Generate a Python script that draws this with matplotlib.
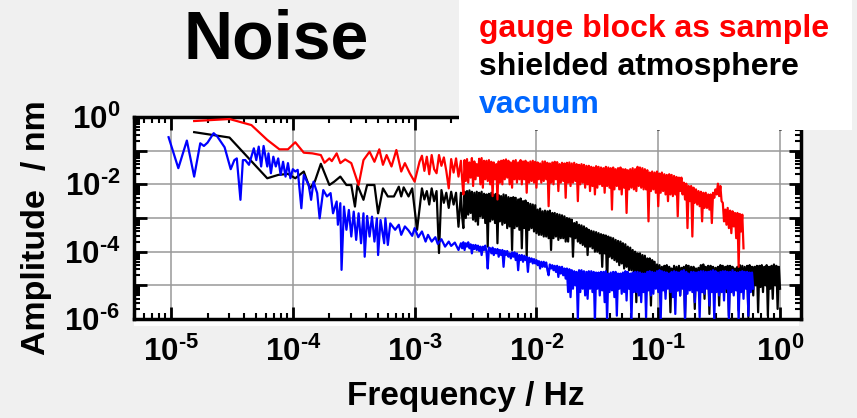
import matplotlib
matplotlib.use('Agg')
import matplotlib.pyplot as plt
import matplotlib.patches as patches
import matplotlib.ticker as ticker
import numpy as np

plt.rcParams['font.family'] = 'Liberation Sans'
plt.rcParams['mathtext.fontset'] = 'custom'
plt.rcParams['mathtext.rm'] = 'Liberation Sans:bold'
plt.rcParams['mathtext.bf'] = 'Liberation Sans:bold'

# --- data (log10 of frequency / Hz and amplitude / nm) ---

# dense high frequency part, shared by the three spectra
logf_dense = [
    -2.62, -2.61, -2.60, -2.59, -2.58, -2.57, -2.56, -2.55, -2.54, -2.53,
    -2.52, -2.51, -2.50, -2.49, -2.48, -2.47, -2.46, -2.45, -2.44, -2.43,
    -2.42, -2.41, -2.40, -2.39, -2.38, -2.37, -2.36, -2.35, -2.34, -2.33,
    -2.32, -2.31, -2.30, -2.29, -2.28, -2.27, -2.26, -2.25, -2.24, -2.23,
    -2.22, -2.21, -2.20, -2.19, -2.18, -2.17, -2.16, -2.15, -2.14, -2.13,
    -2.12, -2.11, -2.10, -2.09, -2.08, -2.07, -2.06, -2.05, -2.04, -2.03,
    -2.02, -2.01, -2.00, -1.99, -1.98, -1.97, -1.96, -1.95, -1.94, -1.93,
    -1.92, -1.91, -1.90, -1.89, -1.88, -1.87, -1.86, -1.85, -1.84, -1.83,
    -1.82, -1.81, -1.80, -1.79, -1.78, -1.77, -1.76, -1.75, -1.74, -1.73,
    -1.72, -1.71, -1.70, -1.69, -1.68, -1.67, -1.66, -1.65, -1.64, -1.63,
    -1.62, -1.61, -1.60, -1.59, -1.58, -1.57, -1.56, -1.55, -1.54, -1.53,
    -1.52, -1.51, -1.50, -1.49, -1.48, -1.47, -1.46, -1.45, -1.44, -1.43,
    -1.42, -1.41, -1.40, -1.39, -1.38, -1.37, -1.36, -1.35, -1.34, -1.33,
    -1.32, -1.31, -1.30, -1.29, -1.28, -1.27, -1.26, -1.25, -1.24, -1.23,
    -1.22, -1.21, -1.20, -1.19, -1.18, -1.17, -1.16, -1.15, -1.14, -1.13,
    -1.12, -1.11, -1.10, -1.09, -1.08, -1.07, -1.06, -1.05, -1.04, -1.03,
    -1.02, -1.01, -1.00, -0.99, -0.98, -0.97, -0.96, -0.95, -0.94, -0.93,
    -0.92, -0.91, -0.90, -0.89, -0.88, -0.87, -0.86, -0.85, -0.84, -0.83,
    -0.82, -0.81, -0.80, -0.79, -0.78, -0.77, -0.76, -0.75, -0.74, -0.73,
    -0.72, -0.71, -0.70, -0.69, -0.68, -0.67, -0.66, -0.65, -0.64, -0.63,
    -0.62, -0.61, -0.60, -0.59, -0.58, -0.57, -0.56, -0.55, -0.54, -0.53,
    -0.52, -0.51, -0.50, -0.49, -0.48, -0.47, -0.46, -0.45, -0.44, -0.43,
    -0.42, -0.41, -0.40, -0.39, -0.38, -0.37, -0.36, -0.35, -0.34, -0.33,
    -0.32, -0.31, -0.30, -0.29, -0.28, -0.27, -0.26, -0.25, -0.24, -0.23,
    -0.22, -0.21, -0.20, -0.19, -0.18, -0.17, -0.16, -0.15, -0.14, -0.13,
    -0.12, -0.11, -0.10, -0.09, -0.08, -0.07, -0.06, -0.05, -0.04, -0.03,
    -0.02, -0.01, 0.00]

# gauge block as sample (red)
red_logf_low = [-4.81, -4.52, -4.34, -4.21, -4.11, -4.04, -3.98, -3.91, -3.84, -3.77,
                -3.74, -3.70, -3.68, -3.64, -3.61, -3.57, -3.52, -3.46, -3.42, -3.37,
                -3.33, -3.29, -3.26, -3.23, -3.19, -3.15, -3.11, -3.08, -3.04, -3.00,
                -2.96, -2.94, -2.92, -2.90, -2.88, -2.86, -2.84, -2.82, -2.80, -2.78,
                -2.76, -2.74, -2.72, -2.70, -2.68, -2.66, -2.64]
red_loga_low = [-0.12, -0.06, -0.24, -0.68, -0.96, -0.96, -0.75, -1.06, -1.08, -1.13,
                -1.36, -1.23, -1.31, -1.08, -1.37, -1.26, -1.37, -2.02, -1.28, -1.03,
                -1.33, -0.96, -1.42, -1.13, -1.47, -0.98, -1.62, -1.37, -1.67, -1.92,
                -1.33, -1.15, -1.60, -1.18, -1.70, -1.13, -1.55, -1.67, -1.13, -1.45,
                -1.20, -1.60, -2.12, -1.25, -1.65, -1.23, -1.77]
red_loga_dense = [
    -1.30, -1.85, -2.30, -1.28, -1.90, -1.25, -1.95, -1.35, -1.80, -1.22,
    -2.05, -1.32, -1.85, -1.40, -1.75, -1.24, -2.00, -1.22, -2.10, -1.30,
    -1.85, -1.30, -1.90, -1.28, -2.00, -1.33, -2.35, -1.35, -1.85, -1.40,
    -2.45, -1.32, -1.95, -1.30, -2.00, -1.28, -1.85, -1.26, -1.80, -1.30,
    -2.00, -1.35, -2.10, -1.30, -1.85, -1.28, -1.95, -1.35, -1.85, -1.28,
    -2.00, -1.32, -1.85, -1.30, -2.25, -1.35, -1.95, -1.32, -1.90, -1.30,
    -1.95, -1.33, -2.10, -1.35, -1.85, -1.38, -1.95, -1.32, -1.90, -1.32,
    -1.85, -1.36, -2.65, -1.38, -1.95, -1.35, -2.00, -1.33, -1.85, -1.34,
    -2.20, -1.40, -1.95, -1.36, -1.90, -1.38, -2.40, -1.36, -1.95, -1.35,
    -2.05, -1.38, -1.95, -1.36, -1.90, -1.40, -2.50, -1.42, -2.00, -1.40,
    -1.95, -1.42, -2.10, -1.45, -2.00, -1.45, -2.20, -1.48, -2.05, -1.50,
    -2.30, -1.46, -2.10, -1.48, -2.00, -1.50, -2.05, -1.52, -2.25, -1.48,
    -2.05, -1.50, -2.10, -1.52, -2.75, -1.50, -2.15, -1.55, -2.05, -1.52,
    -2.15, -1.50, -2.30, -1.55, -2.10, -1.55, -2.85, -1.58, -2.15, -1.55,
    -2.10, -1.52, -2.15, -1.55, -2.20, -1.48, -2.05, -1.50, -2.10, -1.52,
    -2.15, -1.55, -2.15, -1.58, -3.10, -1.65, -2.20, -1.62, -2.15, -1.65,
    -2.25, -1.62, -2.65, -1.68, -2.25, -1.65, -2.20, -1.70, -2.30, -1.72,
    -2.50, -1.70, -2.30, -1.72, -2.35, -1.75, -2.30, -1.78, -2.95, -1.80,
    -2.20, -1.80, -2.30, -1.95, -2.45, -1.98, -3.30, -2.05, -2.50, -2.05,
    -3.55, -2.10, -2.55, -2.15, -2.60, -2.20, -2.65, -2.22, -3.10, -2.25,
    -2.70, -2.25, -2.70, -2.30, -2.75, -2.30, -3.15, -2.25, -2.40, -2.15,
    -2.30, -1.98, -2.35, -2.05, -2.50, -2.55, -3.10, -2.75, -3.20, -2.70,
    -3.30, -2.78, -3.45, -2.80, -3.25, -2.85, -3.60, -2.85, -4.45, -2.88,
    -3.40, -2.90, -3.90]

# shielded atmosphere (black)
black_logf_low = [-4.81, -4.52, -4.21, -4.12, -4.04, -3.98, -3.91, -3.86, -3.82, -3.77,
                  -3.70, -3.66, -3.61, -3.56, -3.52, -3.49, -3.47, -3.42, -3.39, -3.33,
                  -3.30, -3.26, -3.22, -3.17, -3.13, -3.11, -3.09, -3.05, -3.02, -2.98,
                  -2.94, -2.92, -2.90, -2.88, -2.86, -2.84, -2.82, -2.80, -2.78, -2.76,
                  -2.74, -2.72, -2.70, -2.68, -2.66, -2.64]
black_loga_low = [-0.45, -0.61, -1.82, -1.72, -1.69, -1.82, -1.62, -2.12, -1.92, -1.39,
                  -2.02, -1.92, -1.77, -2.02, -2.02, -2.66, -2.02, -2.46, -2.02, -2.02,
                  -2.86, -2.12, -2.36, -2.36, -2.07, -2.36, -2.09, -2.36, -2.12, -3.35,
                  -2.12, -2.45, -2.20, -2.60, -2.12, -2.50, -2.20, -4.04, -2.17, -2.55,
                  -2.25, -2.70, -2.22, -2.60, -2.25, -3.26]
black_loga_dense = [
    -2.25, -2.95, -3.30, -2.22, -3.00, -2.20, -2.90, -2.18, -2.85, -2.22,
    -3.05, -2.25, -3.10, -2.22, -3.20, -2.25, -2.95, -2.22, -3.00, -2.28,
    -3.15, -2.30, -3.85, -2.28, -3.10, -2.25, -3.05, -2.30, -3.15, -2.28,
    -3.75, -2.32, -3.10, -2.35, -3.20, -2.30, -3.15, -2.32, -3.30, -2.38,
    -3.25, -2.40, -3.95, -2.38, -3.30, -2.40, -3.25, -2.45, -3.35, -2.42,
    -3.90, -2.50, -3.30, -2.48, -4.15, -2.55, -3.35, -2.58, -3.30, -2.60,
    -3.40, -2.62, -3.45, -2.75, -3.50, -2.72, -3.50, -2.80, -3.55, -2.78,
    -3.55, -2.80, -3.60, -2.78, -3.95, -2.85, -3.60, -2.85, -3.55, -2.88,
    -3.65, -2.90, -3.60, -2.92, -3.60, -2.95, -3.70, -3.00, -3.70, -3.02,
    -3.55, -3.05, -4.15, -3.15, -3.60, -3.12, -3.70, -3.20, -3.75, -3.22,
    -3.80, -3.25, -3.85, -3.30, -4.10, -3.35, -3.85, -3.38, -3.90, -3.40,
    -4.00, -3.42, -4.00, -3.45, -4.05, -3.48, -4.45, -3.50, -4.05, -3.52,
    -5.05, -3.55, -4.15, -3.58, -4.20, -3.60, -4.25, -3.65, -4.30, -3.68,
    -4.40, -3.70, -4.35, -3.75, -4.50, -3.78, -4.45, -3.85, -4.55, -3.88,
    -4.55, -3.95, -4.60, -4.00, -5.50, -4.05, -4.65, -4.05, -4.70, -4.10,
    -4.75, -4.12, -4.80, -4.20, -4.75, -4.20, -5.60, -4.25, -4.85, -4.30,
    -4.85, -4.38, -4.90, -4.40, -5.00, -4.45, -5.05, -4.42, -5.20, -4.40,
    -4.95, -4.45, -5.80, -4.50, -5.00, -4.42, -5.05, -4.45, -5.15, -4.42,
    -5.30, -4.48, -5.00, -4.45, -5.95, -4.40, -5.10, -4.42, -5.05, -4.45,
    -5.10, -4.45, -5.70, -4.50, -5.00, -4.48, -5.00, -4.40, -5.20, -4.38,
    -5.40, -4.45, -5.05, -4.42, -5.85, -4.42, -5.00, -4.45, -5.15, -4.48,
    -5.10, -4.45, -5.60, -4.40, -5.00, -4.42, -5.05, -4.45, -5.20, -4.42,
    -5.90, -4.42, -5.00, -4.45, -5.25, -4.50, -5.05, -4.45, -5.75, -4.40,
    -5.05, -4.42, -5.10, -4.45, -5.00, -4.42, -5.95, -4.40, -5.10, -4.45,
    -5.30, -4.45, -5.00, -4.42, -5.80, -4.42, -5.05, -4.40, -5.20, -4.45,
    -5.00, -4.40, -5.90, -4.45, -5.10, -4.42, -5.40, -4.38, -5.00, -4.42,
    -5.70, -4.45, -5.10]

# vacuum (blue)
blue_logf_low = [-5.02, -4.94, -4.87, -4.81, -4.76, -4.73, -4.70, -4.65, -4.62, -4.56,
                 -4.51, -4.48, -4.46, -4.43, -4.41, -4.39, -4.36, -4.32, -4.30, -4.28,
                 -4.26, -4.24, -4.21, -4.20, -4.18, -4.16, -4.14, -4.12, -4.10, -4.08,
                 -4.06, -4.04, -4.02, -4.00, -3.98, -3.96,
                 -3.93, -3.91, -3.87, -3.85, -3.83, -3.80, -3.78, -3.75, -3.72, -3.69,
                 -3.67, -3.64, -3.63, -3.61, -3.60, -3.58, -3.56, -3.54, -3.52, -3.50,
                 -3.48, -3.46, -3.44, -3.42, -3.41, -3.39, -3.37, -3.35, -3.33, -3.31,
                 -3.30, -3.28, -3.25, -3.24, -3.22, -3.20,
                 -3.16, -3.13, -3.11, -3.08, -3.05, -3.02, -3.00, -2.97, -2.94, -2.91,
                 -2.89, -2.86, -2.83, -2.81, -2.78, -2.75, -2.72, -2.70, -2.67, -2.64]
blue_loga_low = [-0.60, -1.52, -0.70, -1.77, -0.78, -0.86, -0.76, -0.48, -0.58, -0.90,
                 -1.55, -1.28, -1.23, -2.46, -1.28, -1.28, -1.42, -0.93, -1.28, -0.88,
                 -1.47, -0.86, -1.47, -1.08, -1.67, -1.18, -1.47, -1.23, -1.72, -1.33,
                 -1.77, -1.37, -1.82, -1.55, -1.62, -1.57,
                 -2.71, -1.72, -2.02, -2.46, -1.92, -2.26, -3.01, -2.17, -2.36, -2.26,
                 -2.86, -2.51, -3.20, -2.56, -4.54, -2.66, -3.35, -2.76, -3.55, -2.81,
                 -3.65, -2.86, -3.75, -2.86, -4.15, -2.94, -3.55, -2.96, -3.70, -3.01,
                 -4.10, -3.06, -3.75, -3.01, -3.80, -3.16,
                 -3.35, -3.20, -3.50, -3.25, -3.37, -3.53, -3.30, -3.57, -3.40, -3.70,
                 -3.50, -3.70, -3.57, -3.77, -3.63, -3.85, -3.70, -3.83, -3.73, -3.95]
blue_loga_dense = [
    -3.75, -3.90, -3.72, -3.95, -3.75, -3.85, -3.72, -3.90, -3.78, -4.05,
    -3.80, -3.92, -3.80, -3.95, -3.82, -3.98, -3.85, -4.10, -3.85, -3.95,
    -3.82, -4.00, -4.50, -3.88, -3.90, -4.05, -3.88, -4.10, -3.92, -4.05,
    -3.92, -4.15, -3.95, -4.10, -3.95, -4.45, -3.98, -4.10, -3.98, -4.15,
    -4.05, -4.20, -4.02, -4.15, -4.02, -4.25, -4.05, -4.55, -4.10, -4.25,
    -4.10, -4.30, -4.12, -4.25, -4.15, -4.60, -4.18, -4.30, -4.20, -4.35,
    -4.22, -4.35, -4.25, -4.40, -4.28, -4.50, -4.30, -4.45, -4.30, -4.45,
    -4.32, -4.55, -4.70, -4.38, -4.50, -4.40, -4.55, -4.42, -4.60, -4.42,
    -4.75, -4.45, -4.65, -4.45, -4.70, -4.50, -4.80, -4.50, -5.20, -4.52,
    -5.35, -4.55, -5.10, -4.58, -5.00, -4.60, -6.00, -4.55, -5.20, -4.55,
    -5.10, -4.58, -5.30, -4.60, -5.40, -4.58, -5.10, -4.58, -5.20, -4.60,
    -6.05, -4.62, -5.10, -4.62, -5.30, -4.60, -5.15, -4.60, -5.50, -4.58,
    -6.05, -4.65, -5.20, -4.62, -5.15, -4.60, -5.35, -4.60, -5.90, -4.65,
    -5.10, -4.65, -5.25, -4.62, -5.20, -4.58, -5.45, -4.60, -5.10, -4.65,
    -6.05, -4.62, -5.20, -4.60, -5.20, -4.60, -5.30, -4.62, -5.50, -4.65,
    -5.20, -4.65, -5.95, -4.60, -5.15, -4.58, -5.30, -4.60, -5.25, -4.62,
    -5.10, -4.58, -5.20, -4.55, -6.05, -4.58, -5.15, -4.60, -5.40, -4.62,
    -5.10, -4.65, -5.20, -4.60, -5.35, -4.58, -5.85, -4.60, -5.15, -4.62,
    -5.30, -4.58, -5.10, -4.55, -6.05, -4.60, -5.25, -4.65, -5.15, -4.60,
    -5.20, -4.60, -5.50, -4.62, -5.15, -4.60, -5.95, -4.58, -5.20, -4.58,
    -5.25, -4.60, -5.10, -4.60, -5.60, -4.58, -5.20, -4.55, -6.05, -4.58,
    -5.20, -4.62, -5.30, -4.60, -5.20, -4.58, -5.45, -4.58, -5.10, -4.60,
    -6.05, -4.60, -5.20, -4.55, -5.30, -4.60, -5.15, -4.62, -6.05, -4.60,
    -5.20, -4.58, -5.40, -4.60, -5.10, -4.60, -5.90, -4.62, -5.20, -4.62,
    -5.10]

series_names = ['gauge block as sample', 'shielded atmosphere', 'vacuum']
legend_colors = ['#ff0000', '#000000', '#0066ff']

x_ticks = [1e-5, 1e-4, 1e-3, 1e-2, 1e-1, 1e0]
x_tick_labels = [r'$\mathbf{10^{\text{-}5}}$', r'$\mathbf{10^{\text{-}4}}$',
                 r'$\mathbf{10^{\text{-}3}}$', r'$\mathbf{10^{\text{-}2}}$',
                 r'$\mathbf{10^{\text{-}1}}$', r'$\mathbf{10^{0}}$']
y_ticks = [1e-6, 1e-5, 1e-4, 1e-3, 1e-2, 1e-1, 1e0]
y_tick_labels = [r'$\mathbf{10^{\text{-}6}}$', '', r'$\mathbf{10^{\text{-}4}}$', '',
                 r'$\mathbf{10^{\text{-}2}}$', '', r'$\mathbf{10^{0}}$']


def spectrum(logf_low, loga_low, loga_dense):
    logf = list(logf_low) + logf_dense[:len(loga_dense)]
    loga = list(loga_low) + list(loga_dense)
    return 10.0 ** np.array(logf), 10.0 ** np.array(loga)


fig = plt.figure(figsize=(8.57, 4.18), dpi=100, facecolor='#f0f0f0')
ax = fig.add_axes([0.1564, 0.2368, 0.7783, 0.4833])
ax.set_facecolor('white')

# small white strip under the plot frame
fig.add_artist(patches.Rectangle((0.1564, 0.2200), 0.7760, 0.0200, transform=fig.transFigure,
                                 facecolor='white', edgecolor='none', zorder=-1))

f, a = spectrum(black_logf_low, black_loga_low, black_loga_dense)
ax.plot(f, a, color='black', lw=1.6, zorder=3)
f, a = spectrum(blue_logf_low, blue_loga_low, blue_loga_dense)
ax.plot(f, a, color='#0000ff', lw=1.6, zorder=4)
f, a = spectrum(red_logf_low, red_loga_low, red_loga_dense)
ax.plot(f, a, color='#ff0000', lw=1.6, zorder=5)

ax.set_xscale('log')
ax.set_yscale('log')
ax.set_xlim(4.97e-6, 1.487)
ax.set_ylim(1e-6, 1.0)

ax.set_xticks(x_ticks)
ax.set_xticklabels(x_tick_labels)
ax.set_yticks(y_ticks)
ax.set_yticklabels(y_tick_labels)
ax.xaxis.set_minor_locator(ticker.LogLocator(base=10, subs=np.arange(2, 10), numticks=100))
ax.yaxis.set_minor_locator(ticker.LogLocator(base=10, subs=np.arange(2, 10), numticks=100))
ax.xaxis.set_minor_formatter(ticker.NullFormatter())
ax.yaxis.set_minor_formatter(ticker.NullFormatter())

ax.tick_params(which='major', direction='in', length=9, width=2, top=True, right=True,
               labelsize=22.5)
ax.tick_params(which='minor', direction='in', length=4.5, width=1.5, top=True, right=True)
ax.tick_params(axis='x', which='major', pad=13)
ax.tick_params(axis='y', which='major', pad=10)

for s in ax.spines.values():
    s.set_linewidth(2.5)

ax.grid(True, which='major', color='#999999', lw=1.1, zorder=1)

ax.set_xlabel('Frequency / Hz', fontsize=24, fontweight='bold', va='center')
ax.xaxis.set_label_coords(0.498, -0.386)
ax.set_ylabel('Amplitude  / nm', fontsize=24.5, fontweight='bold', va='center', ha='center')
ax.yaxis.set_label_coords(-0.146, 0.450)

# title
fig.text(0.3226, 0.8612, 'Noise', fontsize=49, fontweight='bold', ha='center', va='baseline')

# legend box drawn over the top of the frame
fig.add_artist(patches.Rectangle((459 / 857, 1 - 130 / 418), 393 / 857, 130 / 418,
                                 transform=fig.transFigure, facecolor='white',
                                 edgecolor='none', zorder=5))
for name, col, yb in zip(series_names, legend_colors, [0.9122, 0.8206, 0.7297]):
    fig.text(0.559, yb, name, color=col, fontsize=23, fontweight='bold',
             ha='left', va='baseline', zorder=6)

fig.savefig('out.png', dpi=100, facecolor=fig.get_facecolor())
